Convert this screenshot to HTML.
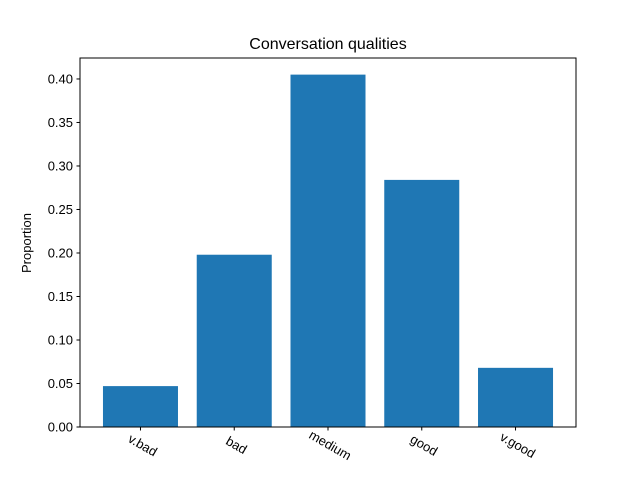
<!DOCTYPE html>
<html><head><meta charset="utf-8"><style>
html,body{margin:0;padding:0;background:#fff;}
svg{display:block;font-family:"Liberation Sans","DejaVu Sans",sans-serif;}
</style></head><body>
<svg id="chart" width="640" height="480" viewBox="0 0 640 480" xmlns="http://www.w3.org/2000/svg">
<rect width="640" height="480" fill="#fff"/>
<text x="328" y="49" text-anchor="middle" font-size="16" fill="#000">Conversation qualities</text>
<text transform="translate(31,243) rotate(-90)" text-anchor="middle" font-size="13" fill="#000">Proportion</text>
<g id="bars"></g>
<g id="yticks"></g>
<g id="xticks"></g>
<rect x="80" y="58" width="496" height="369" fill="none" stroke="#000" stroke-width="1"/>
</svg>
<script>
const categories = ["v.bad","bad","medium","good","v.good"];
const values = [0.047, 0.198, 0.405, 0.284, 0.068];
const yTicks = [0, 0.05, 0.10, 0.15, 0.20, 0.25, 0.30, 0.35, 0.40];
const yTickLabels = ["0.00","0.05","0.10","0.15","0.20","0.25","0.30","0.35","0.40"];

const L=80,R=576,T=58,B=427;
const yMax=0.4241;
const y = v => B - v/yMax*(B-T);
const xMin=-0.645, xMax=categories.length-1+0.645;
const x = i => L + (i-xMin)/(xMax-xMin)*(R-L);
const bw = 0.8*(R-L)/(xMax-xMin);
const NS="http://www.w3.org/2000/svg";
const mk=(t,a)=>{const e=document.createElementNS(NS,t);for(const k in a)e.setAttribute(k,a[k]);return e;};

const gb=document.getElementById('bars');
values.forEach((v,i)=>{
  const r=mk('rect',{x:x(i)-bw/2,y:y(v),width:bw,height:B-y(v),fill:'#1f77b4'});
  
  
  gb.appendChild(r);
});
const gy=document.getElementById('yticks');
yTicks.forEach((t,i)=>{
  const l=mk('line',{x1:L-3.5,x2:L,y1:y(t),y2:y(t),stroke:'#000'});
  
  
  gy.appendChild(l);
  const tx=mk('text',{x:L-7,y:y(t)+4.5,'text-anchor':'end','font-size':'13',fill:'#000'});
  tx.textContent=yTickLabels[i];
  
  
  gy.appendChild(tx);
});
const gx=document.getElementById('xticks');
categories.forEach((c,i)=>{
  const l=mk('line',{x1:x(i),x2:x(i),y1:B,y2:B+3.5,stroke:'#000'});
  
  
  gx.appendChild(l);
  const tx=mk('text',{transform:`translate(${x(i)},${B+22}) rotate(30)`,'text-anchor':'middle','font-size':'13',fill:'#000'});
  tx.textContent=c;
  
  
  gx.appendChild(tx);
});
</script>
</body></html>
